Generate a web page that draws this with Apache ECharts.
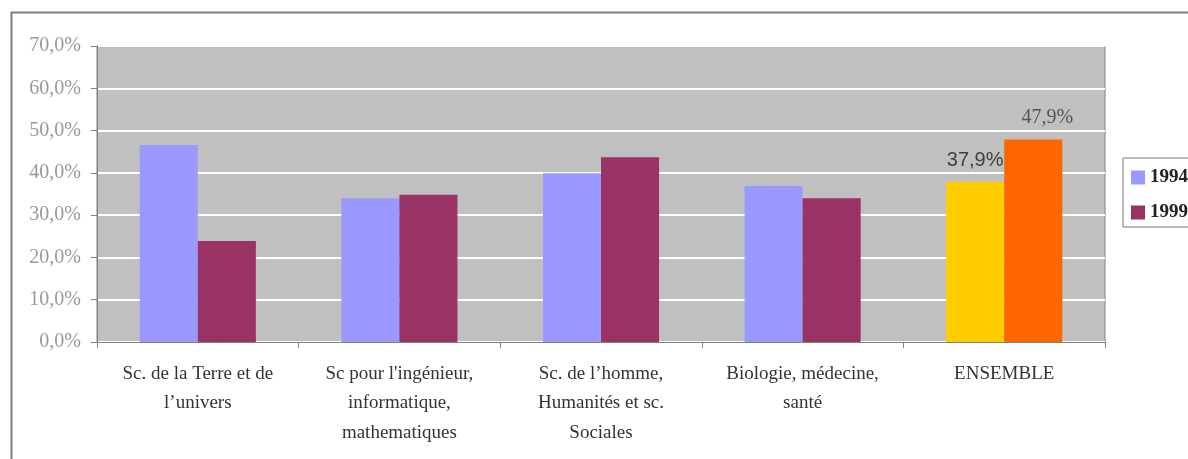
<!DOCTYPE html>
<html>
<head>
<meta charset="utf-8">
<script src="https://cdn.jsdelivr.net/npm/echarts@6/dist/echarts.min.js"></script>
<style>
  html, body { margin: 0; padding: 0; background: #fff; }
  #chart { width: 1188px; height: 459px; }
</style>
</head>
<body>
<div id="chart"></div>
<script>
// catégories (axe X)
const categories = [
  'Sc. de la Terre et de\nl\u2019univers',
  "Sc pour l'ingénieur,\ninformatique,\nmathematiques",
  'Sc. de l\u2019homme,\nHumanités et sc.\nSociales',
  'Biologie, médecine,\nsanté',
  'ENSEMBLE'
]
// valeurs en %
const values1994 = [46.6, 34.0, 39.9, 36.9, 37.9]
const values1999 = [23.9, 34.8, 43.7, 34.0, 47.9]
const seriesNames = ['1994', '1999']
const yTicks = [0, 10, 20, 30, 40, 50, 60, 70]

const fmt = v => v.toFixed(1).replace('.', ',') + '%'
const serif = '"Liberation Serif", serif'

// la dernière barre (ENSEMBLE) a ses propres couleurs + étiquette
const data1994 = values1994.map((v, i) => i === values1994.length - 1
  ? { value: v, itemStyle: { color: '#FFCC00' },
      label: { show: true, position: 'top', distance: 11, formatter: p => fmt(p.value),
        fontFamily: '"Liberation Sans", Arial, sans-serif', fontSize: 20, color: '#404040' } }
  : v)
const data1999 = values1999.map((v, i) => i === values1999.length - 1
  ? { value: v, itemStyle: { color: '#FF6600' },
      label: { show: true, position: 'top', distance: 12, offset: [14, 0], formatter: p => fmt(p.value),
        fontFamily: serif, fontSize: 20, color: '#555' } }
  : v)

const myChart = echarts.init(document.getElementById('chart'))
const option = {
  animation: false,
  backgroundColor: '#fff',
  graphic: [{
    type: 'rect', left: 9, top: 10, z: -10,
    shape: { width: 1200, height: 480 },
    style: { fill: 'none', stroke: '#808080', lineWidth: 2 }
  }],
  grid: {
    left: 97, top: 46, right: 83, bottom: 117,
    show: true, backgroundColor: '#C0C0C0', borderColor: '#808080', borderWidth: 1
  },
  legend: {
    orient: 'vertical', left: 1123, top: 158,
    data: seriesNames,
    itemWidth: 14, itemHeight: 14, itemGap: 16,
    padding: [10, 30, 5, 8],
    borderColor: '#777', borderWidth: 1, backgroundColor: '#fff',
    icon: 'rect',
    textStyle: { fontFamily: serif, fontSize: 19, fontWeight: 'bold', color: '#222' }
  },
  xAxis: {
    type: 'category', data: categories,
    axisLine: { lineStyle: { color: '#808080', width: 1 } },
    axisTick: { show: true, length: 6, alignWithLabel: false, lineStyle: { color: '#808080' } },
    axisLabel: { interval: 0, margin: 17, lineHeight: 29.5, fontFamily: serif, fontSize: 19, color: '#333' }
  },
  yAxis: {
    type: 'value', min: yTicks[0], max: yTicks[yTicks.length - 1], interval: 10,
    axisLine: { show: true, lineStyle: { color: '#808080' } },
    axisTick: { show: true, length: 6, lineStyle: { color: '#808080' } },
    axisLabel: { margin: 16, formatter: v => fmt(v), fontFamily: serif, fontSize: 20, color: '#999' },
    splitLine: { lineStyle: { color: '#fff', width: 2 } }
  },
  series: [
    { name: seriesNames[0], type: 'bar', data: data1994, color: '#9999FF',
      barWidth: '28.8%', barGap: '0%' },
    { name: seriesNames[1], type: 'bar', data: data1999, color: '#993366',
      barWidth: '28.8%', barGap: '0%' }
  ]
}
myChart.setOption(option)
window.onresize = () => { myChart.resize() }
</script>
</body>
</html>
